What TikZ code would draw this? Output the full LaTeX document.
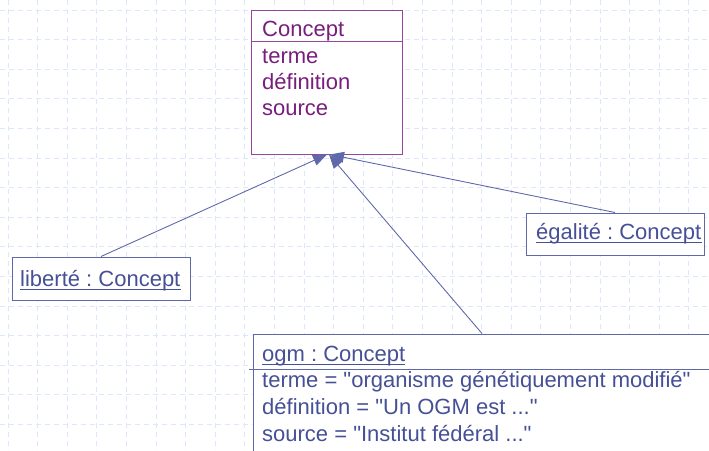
\documentclass[tikz,border=0pt]{standalone}
\usepackage{fontspec}
\setmainfont{Liberation Sans}
\usetikzlibrary{arrows.meta,calc}
\frenchspacing
\newcommand{\dq}{\textquotedbl}
\definecolor{clsline}{RGB}{150,70,155}
\definecolor{clstext}{RGB}{120,30,125}
\definecolor{objline}{RGB}{95,105,170}
\definecolor{objtext}{RGB}{70,80,150}
\definecolor{gridblue}{RGB}{222,230,252}
\tikzset{
  gridline/.style={draw=gridblue,line width=0.9pt,dash pattern=on 5pt off 4pt},
  classbox/.style={draw=clsline,line width=1pt,fill=white,rectangle,inner sep=0pt},
  objbox/.style={draw=objline,line width=1pt,fill=white,rectangle,inner sep=0pt},
  clslabel/.style={anchor=base west,inner sep=0pt,text=clstext,font=\fontsize{22}{26}\selectfont},
  objlabel/.style={anchor=base west,inner sep=0pt,text=objtext,font=\fontsize{22}{26}\selectfont},
  uline/.style={draw=objtext,line width=0.9pt},
  instof/.style={draw=objline,line width=0.9pt,-{Triangle[length=14pt,width=11pt]}}
}
\begin{document}
\begin{tikzpicture}[x=1pt,y=-1pt]
\useasboundingbox (0,0) rectangle (709,450);
\clip (0,0) rectangle (709,450);
% background grid
\foreach \k in {0,...,23} {
  \draw[gridline] (8+29.6*\k,0) -- (8+29.6*\k,450);
}
\foreach \k in {0,...,15} {
  \draw[gridline] (0,10+29.6*\k) -- (709,10+29.6*\k);
}
% class Concept
\node[classbox,minimum width=150.5pt,minimum height=144pt] (concept) at (327,82) {};
\draw[draw=clsline,line width=1pt] (concept.west |- 0,41) -- (concept.east |- 0,41);
\node[clslabel] (cname) at (262,36) {Concept};
\node[clslabel] (cterme) at (262,63) {terme};
\node[clslabel] (cdef) at (262,89) {définition};
\node[clslabel] (csrc) at (262,115) {source};
% instance liberté
\node[objbox,minimum width=178pt,minimum height=43pt] (lib) at (101,278.5) {};
\node[objlabel] (libtxt) at (20,286) {liberté : Concept};
\draw[uline] ($(libtxt.base west)+(0,3)$) -- ($(libtxt.base east)+(0,3)$);
% instance égalité
\node[objbox,minimum width=178pt,minimum height=42pt] (egal) at (615,234) {};
\node[objlabel] (egaltxt) at (536,239) {égalité : Concept};
\draw[uline] ($(egaltxt.base west)+(0,3)$) -- ($(egaltxt.base east)+(0,3)$);
% instance ogm
\node[objbox,minimum width=458pt,minimum height=140pt] (ogm) at (482,404) {};
\draw[draw=objline,line width=1pt] (249,369) -- (ogm.east |- 0,369);
\node[objlabel] (ogmtxt) at (262,361) {ogm : Concept};
\draw[uline] ($(ogmtxt.base west)+(0,3)$) -- ($(ogmtxt.base east)+(0,3)$);
\node[objlabel] (oterme) at (262,387) {terme = \dq organisme génétiquement modifié\dq};
\node[objlabel] (odef) at (262,414) {définition = \dq Un OGM est ...\dq};
\node[objlabel] (osrc) at (262,441) {source = \dq Institut fédéral ...\dq};
% instance-of arrows
\coordinate (tipO) at ($(concept.south)+(2,0)$);
\coordinate (tipE) at ($(concept.south)+(3,0)$);
\draw[instof] (lib.north) -- (concept.south);
\draw[instof] (ogm.north) -- (tipO);
\draw[instof] (egal.north) -- (tipE);
\end{tikzpicture}
\end{document}
